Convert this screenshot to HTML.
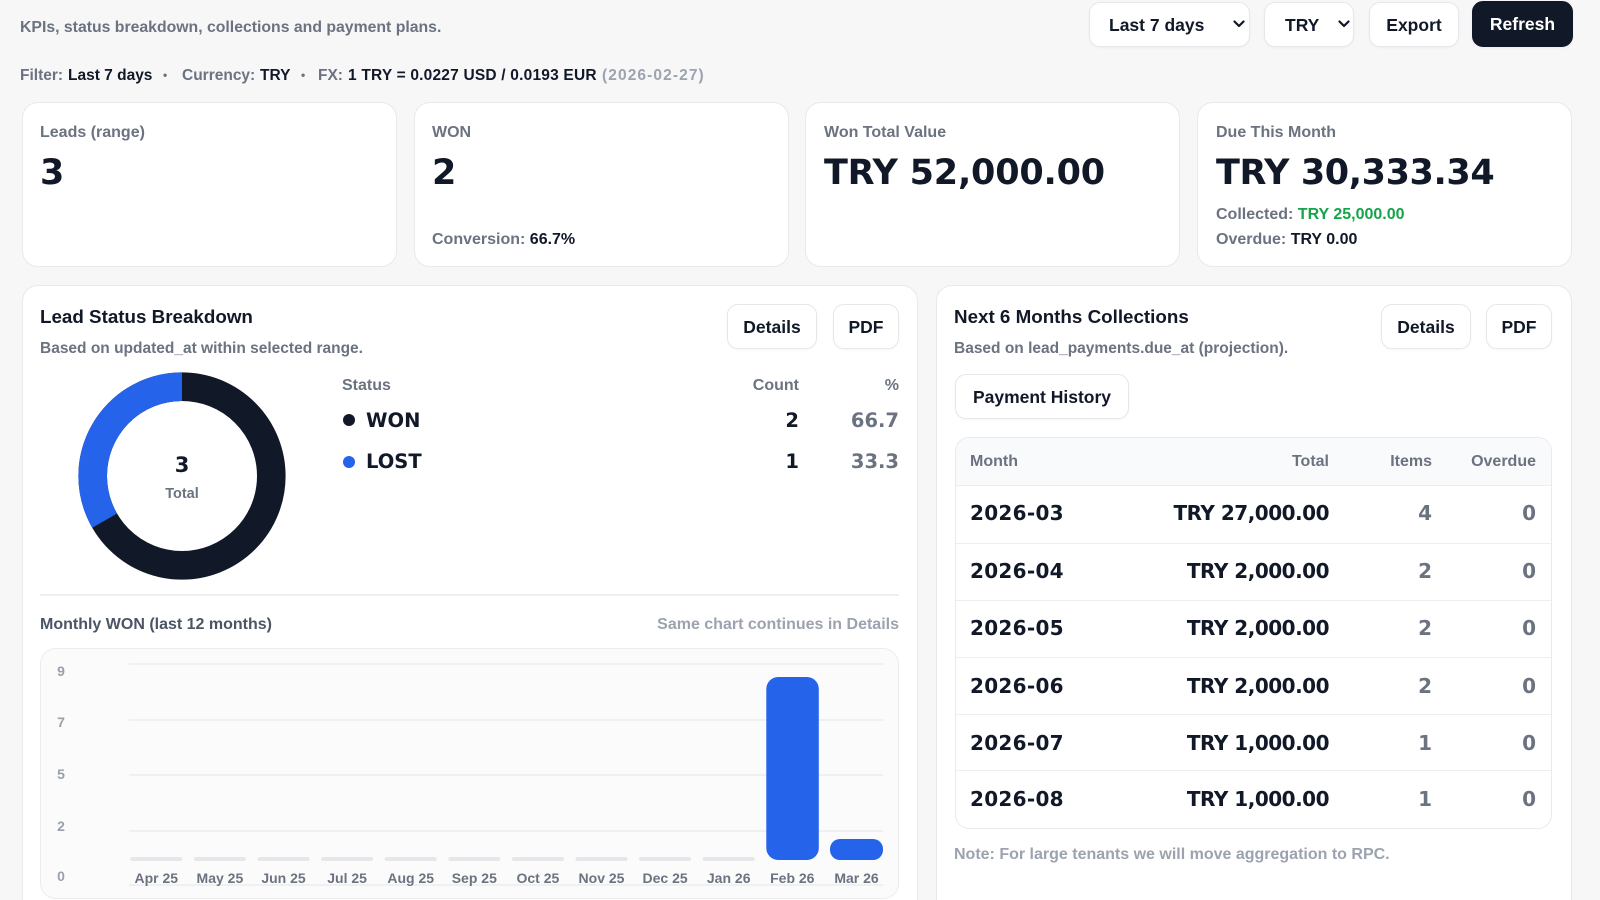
<!DOCTYPE html>
<html><head><meta charset="utf-8"><style>
*{box-sizing:border-box;margin:0;padding:0}
html,body{width:1600px;height:900px;overflow:hidden;background:#f7f7f8}
body{position:relative;font-family:"Liberation Sans",Arial,sans-serif;font-weight:700;color:#111827}
.a{position:absolute;white-space:nowrap}
.box{position:absolute;background:#fff;border:1px solid #e9e9ec;border-radius:16px}
.btn{position:absolute;background:#fff;border:1px solid #e6e7ea;border-radius:11px;font-size:17.5px;display:flex;align-items:center;justify-content:center;color:#111827;box-shadow:0 1px 2px rgba(0,0,0,.04);padding-top:1px}
.g{color:#6b7280}
.lg{color:#9ca3af}
.d{font-family:"DejaVu Sans",sans-serif;font-weight:700}
.r{text-align:right}
</style></head><body>

<!-- header -->
<div class="a g" style="left:20px;top:17px;font-size:15.8px;line-height:21px">KPIs, status breakdown, collections and payment plans.</div>

<div class="btn" style="left:1089px;top:2px;width:161px;height:45px;justify-content:flex-start;padding-left:19px">Last 7 days</div>
<svg class="a" style="left:1233px;top:20px" width="12" height="8" viewBox="0 0 12 8"><polyline points="1.5,1.5 6,6 10.5,1.5" fill="none" stroke="#111827" stroke-width="2.2" stroke-linecap="round" stroke-linejoin="round"/></svg>
<div class="btn" style="left:1264px;top:2px;width:90px;height:45px;justify-content:flex-start;padding-left:20px">TRY</div>
<svg class="a" style="left:1338px;top:20px" width="12" height="8" viewBox="0 0 12 8"><polyline points="1.5,1.5 6,6 10.5,1.5" fill="none" stroke="#111827" stroke-width="2.2" stroke-linecap="round" stroke-linejoin="round"/></svg>
<div class="btn" style="left:1369px;top:2px;width:90px;height:45px">Export</div>
<div class="btn" style="left:1472px;top:1px;width:101px;height:46px;background:#111827;border-color:#111827;color:#fff">Refresh</div>

<!-- filter line -->
<div class="a g" style="left:20px;top:65px;font-size:15.5px;line-height:21px">Filter:</div>
<div class="a" style="left:68px;top:65px;font-size:15.5px;line-height:21px">Last 7 days</div>
<div class="a g" style="left:163px;top:65px;font-size:12px;line-height:21px">•</div>
<div class="a g" style="left:182px;top:65px;font-size:15.5px;line-height:21px">Currency:</div>
<div class="a" style="left:260px;top:65px;font-size:15.5px;line-height:21px">TRY</div>
<div class="a g" style="left:301px;top:65px;font-size:12px;line-height:21px">•</div>
<div class="a g" style="left:318px;top:65px;font-size:15.5px;line-height:21px">FX:</div>
<div class="a" style="left:348px;top:65px;font-size:15.5px;line-height:21px;letter-spacing:0.2px">1 TRY = 0.0227 USD / 0.0193 EUR</div>
<div class="a lg" style="left:602px;top:65px;font-size:15.5px;line-height:21px;letter-spacing:1.1px">(2026-02-27)</div>

<!-- KPI cards -->
<div class="box" style="left:22px;top:102px;width:375px;height:165px"></div>
<div class="box" style="left:414px;top:102px;width:375px;height:165px"></div>
<div class="box" style="left:805px;top:102px;width:375px;height:165px"></div>
<div class="box" style="left:1197px;top:102px;width:375px;height:165px"></div>

<div class="a g" style="left:40px;top:123px;font-size:16px;line-height:20px">Leads (range)</div>
<div class="a d" style="left:40px;top:153px;font-size:35px;line-height:40px">3</div>

<div class="a g" style="left:432px;top:123px;font-size:16px;line-height:20px">WON</div>
<div class="a d" style="left:432px;top:153px;font-size:35px;line-height:40px">2</div>
<div class="a" style="left:432px;top:230px;font-size:16px;line-height:20px"><span class="g">Conversion:</span> 66.7%</div>

<div class="a g" style="left:824px;top:123px;font-size:16px;line-height:20px">Won Total Value</div>
<div class="a d" style="left:824px;top:153px;font-size:35px;line-height:40px;letter-spacing:-0.2px">TRY 52,000.00</div>

<div class="a g" style="left:1216px;top:123px;font-size:16px;line-height:20px">Due This Month</div>
<div class="a d" style="left:1216px;top:153px;font-size:35px;line-height:40px;letter-spacing:-0.4px">TRY 30,333.34</div>
<div class="a" style="left:1216px;top:205px;font-size:16px;line-height:20px"><span class="g">Collected:</span> <span style="color:#16a34a">TRY 25,000.00</span></div>
<div class="a" style="left:1216px;top:230px;font-size:16px;line-height:20px"><span class="g">Overdue:</span> TRY 0.00</div>

<!-- panels -->
<div class="box" style="left:22px;top:285px;width:896px;height:700px"></div>
<div class="box" style="left:936px;top:285px;width:636px;height:700px"></div>

<!-- left panel -->
<div class="a" style="left:40px;top:306px;font-size:18.8px;line-height:22px">Lead Status Breakdown</div>
<div class="a g" style="left:40px;top:339px;font-size:15.5px;line-height:20px">Based on updated_at within selected range.</div>
<div class="btn" style="left:727px;top:304px;width:90px;height:45px">Details</div>
<div class="btn" style="left:833px;top:304px;width:66px;height:45px">PDF</div>

<div class="a g" style="left:342px;top:376px;font-size:16px;line-height:20px">Status</div>
<div class="a g r" style="right:801px;top:376px;font-size:16px;line-height:20px">Count</div>
<div class="a g r" style="right:701px;top:376px;font-size:16px;line-height:20px">%</div>

<div class="a" style="left:343px;top:414px;width:12px;height:12px;border-radius:50%;background:#111827"></div>
<div class="a d" style="left:366px;top:409px;font-size:19.5px;line-height:24px">WON</div>
<div class="a d r" style="right:801px;top:409px;font-size:19.5px;line-height:24px">2</div>
<div class="a d r g" style="right:701px;top:409px;font-size:19.5px;line-height:24px">66.7</div>

<div class="a" style="left:343px;top:456px;width:12px;height:12px;border-radius:50%;background:#2563eb"></div>
<div class="a d" style="left:366px;top:450px;font-size:19.5px;line-height:24px">LOST</div>
<div class="a d r" style="right:801px;top:450px;font-size:19.5px;line-height:24px">1</div>
<div class="a d r g" style="right:701px;top:450px;font-size:19.5px;line-height:24px">33.3</div>

<div class="a" style="left:40px;top:594px;width:859px;height:2px;background:#eeeff1"></div>

<div class="a" style="left:40px;top:615px;font-size:16px;line-height:20px;color:#4b5563">Monthly WON (last 12 months)</div>
<div class="a lg r" style="right:701px;top:615px;font-size:16px;line-height:20px">Same chart continues in Details</div>

<div class="a" style="left:40px;top:648px;width:859px;height:251px;background:#fbfbfc;border:1px solid #ececef;border-radius:16px"></div>

<svg class="a" style="left:0;top:0" width="1600" height="900" viewBox="0 0 1600 900">
  <!-- donut -->
  <circle cx="182" cy="476" r="89.3" fill="none" stroke="#111827" stroke-width="28.6"/>
  <path d="M 182 386.7 A 89.3 89.3 0 0 0 104.67 520.65" fill="none" stroke="#2563eb" stroke-width="28.6"/>
  <text x="182" y="465" text-anchor="middle" dominant-baseline="central" font-family="DejaVu Sans" font-weight="700" font-size="21" fill="#111827">3</text>
  <text x="182" y="494" text-anchor="middle" dominant-baseline="central" font-family="Liberation Sans" font-weight="700" font-size="14.5" fill="#6b7280">Total</text>

  <!-- grid -->
  <g stroke="#ebecef" stroke-width="1.5">
    <line x1="129" y1="664" x2="883" y2="664"/>
    <line x1="129" y1="720" x2="883" y2="720"/>
    <line x1="129" y1="775" x2="883" y2="775"/>
    <line x1="129" y1="831" x2="883" y2="831"/>
    <line x1="129" y1="885" x2="883" y2="885"/>
  </g>
  <g font-family="Liberation Sans" font-weight="700" font-size="14" fill="#9aa0aa" text-anchor="middle" dominant-baseline="central">
    <text x="61" y="671">9</text>
    <text x="61" y="722">7</text>
    <text x="61" y="774">5</text>
    <text x="61" y="826">2</text>
    <text x="61" y="876">0</text>
  </g>
  <!-- empty bars -->
  <g fill="#e5e7eb">
    <rect x="130.3" y="857" width="52" height="4" rx="2"/>
    <rect x="193.9" y="857" width="52" height="4" rx="2"/>
    <rect x="257.5" y="857" width="52" height="4" rx="2"/>
    <rect x="321.1" y="857" width="52" height="4" rx="2"/>
    <rect x="384.7" y="857" width="52" height="4" rx="2"/>
    <rect x="448.3" y="857" width="52" height="4" rx="2"/>
    <rect x="511.9" y="857" width="52" height="4" rx="2"/>
    <rect x="575.5" y="857" width="52" height="4" rx="2"/>
    <rect x="639.1" y="857" width="52" height="4" rx="2"/>
    <rect x="702.7" y="857" width="52" height="4" rx="2"/>
  </g>
  <rect x="766.3" y="677" width="52.5" height="183" rx="12" fill="#2563eb"/>
  <rect x="830" y="839" width="53" height="21" rx="10" fill="#2563eb"/>
  <g font-family="Liberation Sans" font-weight="700" font-size="14" fill="#6b7280" text-anchor="middle" dominant-baseline="central">
    <text x="156.3" y="878">Apr 25</text>
    <text x="219.9" y="878">May 25</text>
    <text x="283.5" y="878">Jun 25</text>
    <text x="347.1" y="878">Jul 25</text>
    <text x="410.7" y="878">Aug 25</text>
    <text x="474.3" y="878">Sep 25</text>
    <text x="537.9" y="878">Oct 25</text>
    <text x="601.5" y="878">Nov 25</text>
    <text x="665.1" y="878">Dec 25</text>
    <text x="728.7" y="878">Jan 26</text>
    <text x="792.3" y="878">Feb 26</text>
    <text x="856.5" y="878">Mar 26</text>
  </g>
</svg>

<!-- right panel -->
<div class="a" style="left:954px;top:306px;font-size:18.8px;line-height:22px">Next 6 Months Collections</div>
<div class="a g" style="left:954px;top:339px;font-size:15.5px;line-height:20px">Based on lead_payments.due_at (projection).</div>
<div class="btn" style="left:1381px;top:304px;width:90px;height:45px">Details</div>
<div class="btn" style="left:1486px;top:304px;width:66px;height:45px">PDF</div>
<div class="btn" style="left:955px;top:374px;width:174px;height:45px">Payment History</div>

<div class="a" style="left:955px;top:437px;width:597px;height:392px;background:#fff;border:1px solid #e9eaed;border-radius:14px;overflow:hidden">
  <div style="position:absolute;left:0;top:0;width:100%;height:48px;background:#f9fafb;border-bottom:1px solid #eceef1"></div>
  <div style="position:absolute;left:0;top:105px;width:100%;height:1px;background:#eceef1"></div>
  <div style="position:absolute;left:0;top:162px;width:100%;height:1px;background:#eceef1"></div>
  <div style="position:absolute;left:0;top:219px;width:100%;height:1px;background:#eceef1"></div>
  <div style="position:absolute;left:0;top:276px;width:100%;height:1px;background:#eceef1"></div>
  <div style="position:absolute;left:0;top:332px;width:100%;height:1px;background:#eceef1"></div>
</div>

<div class="a g" style="left:970px;top:452px;font-size:16px;line-height:20px">Month</div>
<div class="a g r" style="right:271px;top:452px;font-size:16px;line-height:20px">Total</div>
<div class="a g r" style="right:168px;top:452px;font-size:16px;line-height:20px">Items</div>
<div class="a g r" style="right:64px;top:452px;font-size:16px;line-height:20px">Overdue</div>

<div class="a d" style="left:970px;top:501px;font-size:20px;line-height:24px;letter-spacing:0.3px">2026-03</div>
<div class="a d r" style="right:271px;top:501px;font-size:20px;line-height:24px;letter-spacing:-0.5px">TRY 27,000.00</div>
<div class="a d r g" style="right:168px;top:501px;font-size:20px;line-height:24px">4</div>
<div class="a d r g" style="right:64px;top:501px;font-size:20px;line-height:24px">0</div>

<div class="a d" style="left:970px;top:559px;font-size:20px;line-height:24px;letter-spacing:0.3px">2026-04</div>
<div class="a d r" style="right:271px;top:559px;font-size:20px;line-height:24px;letter-spacing:-0.5px">TRY 2,000.00</div>
<div class="a d r g" style="right:168px;top:559px;font-size:20px;line-height:24px">2</div>
<div class="a d r g" style="right:64px;top:559px;font-size:20px;line-height:24px">0</div>

<div class="a d" style="left:970px;top:616px;font-size:20px;line-height:24px;letter-spacing:0.3px">2026-05</div>
<div class="a d r" style="right:271px;top:616px;font-size:20px;line-height:24px;letter-spacing:-0.5px">TRY 2,000.00</div>
<div class="a d r g" style="right:168px;top:616px;font-size:20px;line-height:24px">2</div>
<div class="a d r g" style="right:64px;top:616px;font-size:20px;line-height:24px">0</div>

<div class="a d" style="left:970px;top:674px;font-size:20px;line-height:24px;letter-spacing:0.3px">2026-06</div>
<div class="a d r" style="right:271px;top:674px;font-size:20px;line-height:24px;letter-spacing:-0.5px">TRY 2,000.00</div>
<div class="a d r g" style="right:168px;top:674px;font-size:20px;line-height:24px">2</div>
<div class="a d r g" style="right:64px;top:674px;font-size:20px;line-height:24px">0</div>

<div class="a d" style="left:970px;top:731px;font-size:20px;line-height:24px;letter-spacing:0.3px">2026-07</div>
<div class="a d r" style="right:271px;top:731px;font-size:20px;line-height:24px;letter-spacing:-0.5px">TRY 1,000.00</div>
<div class="a d r g" style="right:168px;top:731px;font-size:20px;line-height:24px">1</div>
<div class="a d r g" style="right:64px;top:731px;font-size:20px;line-height:24px">0</div>

<div class="a d" style="left:970px;top:787px;font-size:20px;line-height:24px;letter-spacing:0.3px">2026-08</div>
<div class="a d r" style="right:271px;top:787px;font-size:20px;line-height:24px;letter-spacing:-0.5px">TRY 1,000.00</div>
<div class="a d r g" style="right:168px;top:787px;font-size:20px;line-height:24px">1</div>
<div class="a d r g" style="right:64px;top:787px;font-size:20px;line-height:24px">0</div>

<div class="a lg" style="left:954px;top:845px;font-size:16px;line-height:20px">Note: For large tenants we will move aggregation to RPC.</div>

</body></html>
